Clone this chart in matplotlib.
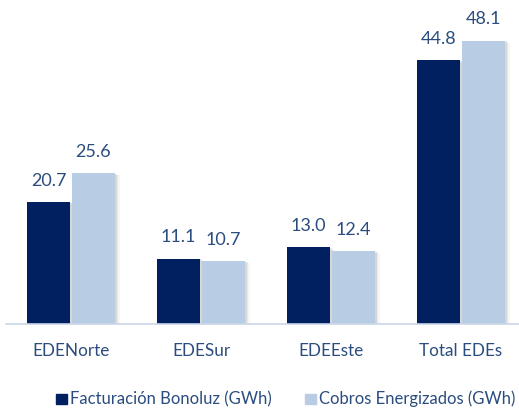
import matplotlib
matplotlib.use("Agg")
import matplotlib.pyplot as plt
import numpy as np

categories = ["EDENorte", "EDESur", "EDEEste", "Total EDEs"]
facturacion = [20.7, 11.1, 13.0, 44.8]
cobros = [25.6, 10.7, 12.4, 48.1]
series_names = ["Facturación Bonoluz (GWh)", "Cobros Energizados (GWh)"]

dark = "#002060"
light = "#B8CCE4"
txt = "#2B4C7E"
font = "Lato"

W, H = 519, 409
fig = plt.figure(figsize=(W / 100, H / 100), dpi=100)
ax = fig.add_axes([0, (H - 324) / H, 1, 324 / H])
x0 = (0 - 71) / 130
x1 = (W - 71) / 130
ax.set_xlim(x0, x1)
ax.set_ylim(0, 55)

x = np.arange(len(categories))
bw = 43 / 130
off = 22.5 / 130

for vals, color, dx in [(facturacion, dark, -off), (cobros, light, off)]:
    # soft shadow
    for i, a in enumerate([0.12, 0.08, 0.05]):
        s = (i + 1) * 1.6 / 130
        ax.bar(x + dx + s, np.array(vals) - (i + 1) * 0.12, bw, bottom=0,
               color="#555555", alpha=a, zorder=1, linewidth=0)
    ax.bar(x + dx, vals, bw, color=color, zorder=2, linewidth=0)
    for xi, v in zip(x + dx, vals):
        ax.text(xi, v + 3.6, f"{v:.1f}", ha="center", va="center",
                fontsize=13, color=txt, family=font)

ax.plot([(6 - 71) / 130, x1], [0, 0], color="#C9D6E8", lw=1.2, zorder=3,
        clip_on=False)

for xi, c in zip(x, categories):
    ax.text(xi, -4.55, c, ha="center", va="center", fontsize=12.3, color=txt,
            family=font)

for i, (name, color) in enumerate(zip(series_names, [dark, light])):
    px = 56 if i == 0 else 305
    fig.patches.append(plt.Rectangle((px / W, (H - 404) / H), 10.5 / W, 10.5 / H,
                                     transform=fig.transFigure, color=color,
                                     figure=fig))
    fig.text((px + 14) / W, (H - 399) / H, name, ha="left", va="center",
             fontsize=12, color=txt, family=font)

ax.axis("off")
fig.savefig("out.png", dpi=100, facecolor="white")
